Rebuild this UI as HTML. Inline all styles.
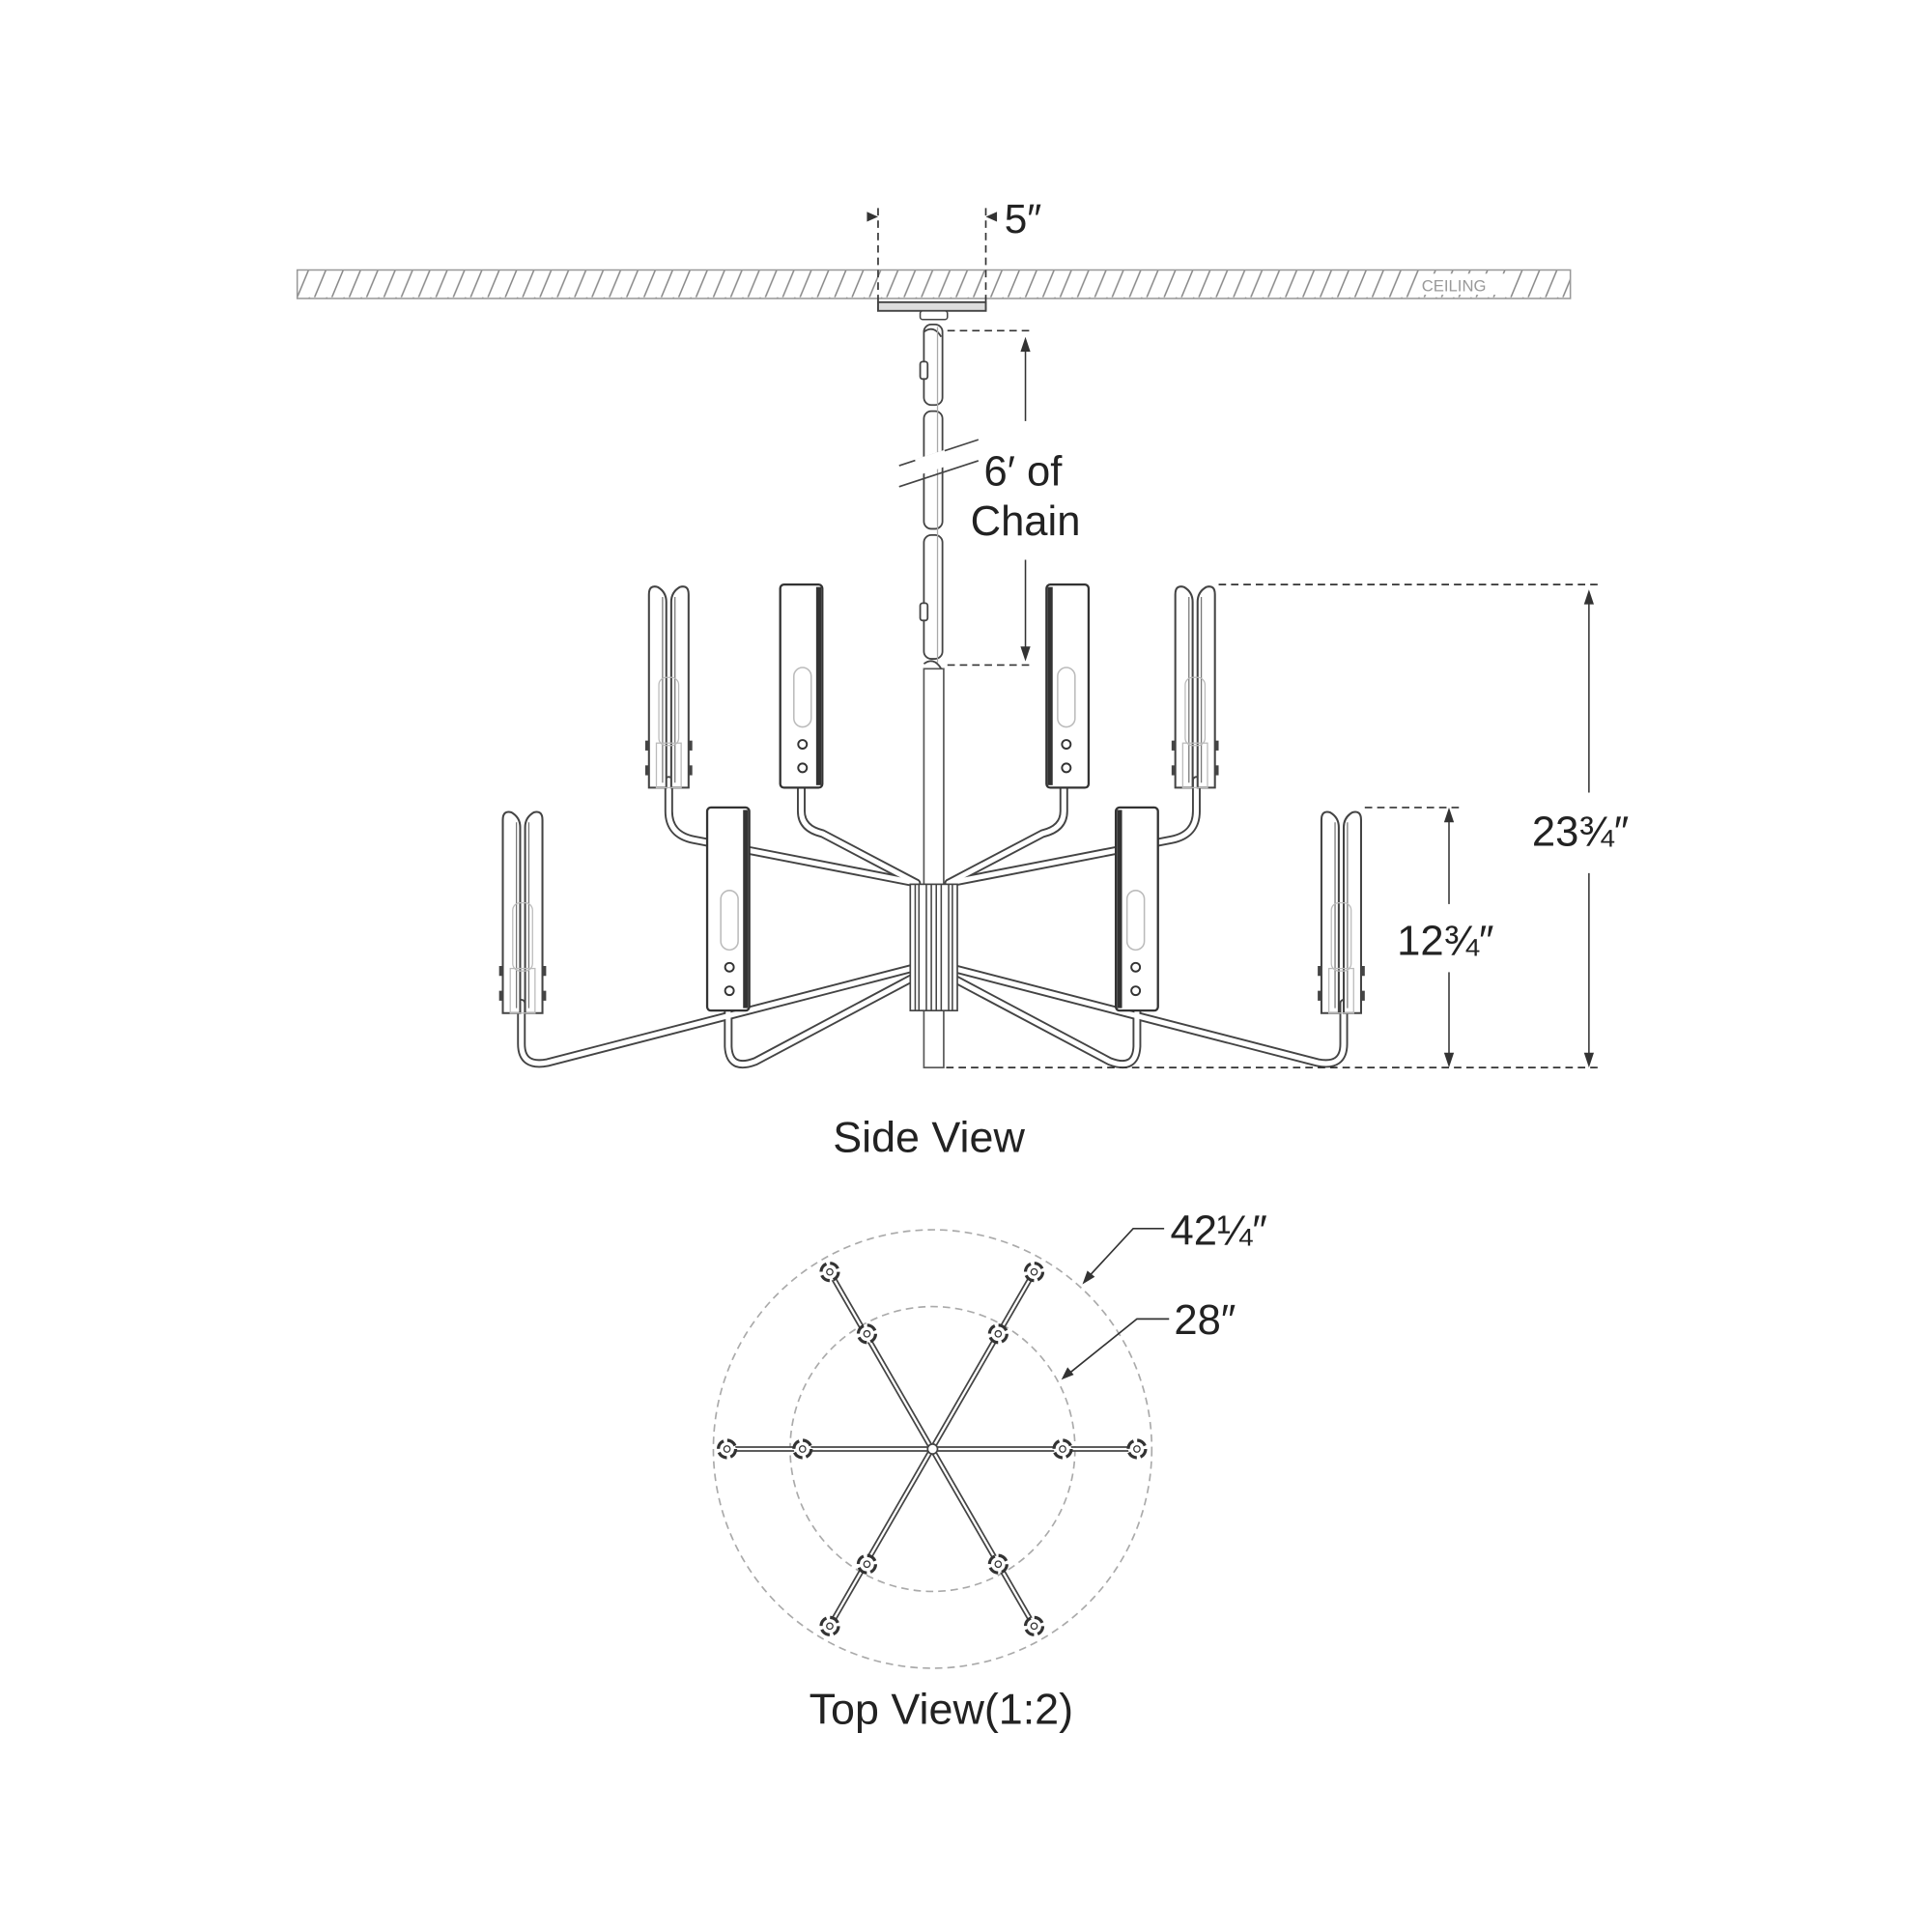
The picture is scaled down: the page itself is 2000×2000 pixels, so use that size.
<!DOCTYPE html>
<html><head><meta charset="utf-8"><style>
html,body{margin:0;padding:0;background:#fff;}
svg{display:block;}
text{font-family:"Liberation Sans",sans-serif;fill:#222;}
</style></head><body>
<svg width="2000" height="2000" viewBox="0 0 1560 1560" xmlns="http://www.w3.org/2000/svg">
<defs>
<pattern id="hatch" width="14" height="24" patternUnits="userSpaceOnUse">
<line x1="2" y1="24" x2="12" y2="0" stroke="#888" stroke-width="1.2"/>
</pattern>
<g id="vshade">
<path d="M1,8 Q1,0 8,2 Q15,6 15,14 L15,164 L1,164 Z" fill="#fff" stroke="#444" stroke-width="1.6"/>
<path d="M33,8 Q33,0 26,2 Q19,6 19,14 L19,164 L33,164 Z" fill="#fff" stroke="#444" stroke-width="1.6"/>
<line x1="12" y1="10" x2="12" y2="160" stroke="#777" stroke-width="1"/>
<line x1="22" y1="10" x2="22" y2="160" stroke="#777" stroke-width="1"/>
<rect x="9" y="75" width="16" height="55" rx="6" fill="none" stroke="#bbb" stroke-width="1"/>
<rect x="7" y="128" width="20" height="36" fill="none" stroke="#bbb" stroke-width="1"/>
<rect x="-2" y="126" width="3" height="8" fill="#444"/><rect x="33" y="126" width="3" height="8" fill="#444"/>
<rect x="-2" y="146" width="3" height="8" fill="#444"/><rect x="33" y="146" width="3" height="8" fill="#444"/>
</g>
<g id="sshade">
<rect x="0" y="0" width="34" height="164" rx="3" fill="#fff" stroke="#333" stroke-width="1.8"/>
<rect x="29" y="2" width="4" height="160" fill="#333"/>
<rect x="11" y="67" width="14" height="48" rx="7" fill="none" stroke="#bbb" stroke-width="1.2"/>
<circle cx="18" cy="129" r="3.5" fill="none" stroke="#333" stroke-width="1.5"/>
<circle cx="18" cy="148" r="3.5" fill="none" stroke="#333" stroke-width="1.5"/>
</g>
<g id="arms" fill="none" stroke-linejoin="round" stroke-linecap="round">
<g stroke="#444" stroke-width="7">
<path d="M540,630 L540,655 Q540,674 560,678 L740,713"/>
<path d="M647,630 L647,655 Q647,669 664,673 L740,713"/>
<path d="M421,810 L421,843 Q421,862 442,858 L736,782"/>
<path d="M588,810 L588,845 Q589,865 610,857 L736,790"/>
</g>
<g stroke="#fff" stroke-width="4">
<path d="M540,630 L540,655 Q540,674 560,678 L740,713"/>
<path d="M647,630 L647,655 Q647,669 664,673 L740,713"/>
<path d="M421,810 L421,843 Q421,862 442,858 L736,782"/>
<path d="M588,810 L588,845 Q589,865 610,857 L736,790"/>
</g>
</g>
<g id="bulb"><circle r="7" fill="#fff" stroke="#333" stroke-width="2.5" stroke-dasharray="8 3"/><circle r="2.5" fill="none" stroke="#333" stroke-width="1"/></g>
</defs>

<!-- ceiling -->
<rect x="240" y="218" width="1028" height="23" fill="url(#hatch)" stroke="#999" stroke-width="1.2"/>
<rect x="1145" y="221" width="72" height="17" fill="#fff"/>
<text x="1148" y="235" font-size="13" style="fill:#999">CEILING</text>

<!-- 5" dim -->
<g stroke="#333" stroke-width="1.3" stroke-dasharray="6 4">
<line x1="709" y1="168" x2="709" y2="250"/>
<line x1="796" y1="168" x2="796" y2="250"/>
</g>
<path d="M700,171 L709,175 L700,179 Z M805,171 L796,175 L805,179 Z" fill="#333"/>
<text x="811" y="188" font-size="33">5″</text>

<!-- canopy -->
<rect x="709" y="244" width="87" height="7" fill="#ddd" stroke="#444" stroke-width="1.5"/>
<rect x="743" y="251" width="22" height="7" rx="2" fill="#fff" stroke="#444" stroke-width="1.2"/>

<!-- chain -->
<g fill="#fff" stroke="#444" stroke-width="1.4">
<rect x="746" y="262" width="15" height="65" rx="6"/>
<rect x="746" y="332" width="15" height="95" rx="6"/>
<rect x="746" y="432" width="15" height="100" rx="6"/>
<rect x="743" y="292" width="6" height="14" rx="2"/>
<rect x="743" y="487" width="6" height="14" rx="2"/>
<path d="M746,268 Q754,262 760,272 M746,536 Q754,530 760,540" fill="none"/>
</g>
<line x1="757" y1="264" x2="757" y2="535" stroke="#aaa" stroke-width="1"/>
<g stroke="#444" stroke-width="1.3"><line x1="726" y1="376" x2="790" y2="355"/><line x1="726" y1="393" x2="790" y2="372"/></g>
<rect x="740" y="367" width="25" height="13" fill="#fff" transform="rotate(-18 752 373)"/>

<!-- chain dim -->
<g stroke="#333" stroke-width="1.3" stroke-dasharray="6 4">
<line x1="765" y1="267" x2="832" y2="267"/>
<line x1="765" y1="537" x2="832" y2="537"/>
</g>
<g stroke="#333" stroke-width="1.2"><line x1="828" y1="275" x2="828" y2="340"/><line x1="828" y1="452" x2="828" y2="530"/></g>
<path d="M824,284 L828,272 L832,284 Z M824,522 L828,534 L832,522 Z" fill="#333"/>
<text x="826" y="392" font-size="34" text-anchor="middle">6′ of</text>
<text x="828" y="432" font-size="34" text-anchor="middle">Chain</text>

<!-- stem -->
<rect x="746" y="540" width="16" height="322" fill="#fff" stroke="#555" stroke-width="1.3"/>

<!-- arms -->
<use href="#arms"/>
<use href="#arms" transform="translate(1506,0) scale(-1,1)"/>

<!-- hub -->
<rect x="735" y="714" width="38" height="102" fill="#fff" stroke="#444" stroke-width="1.3"/>
<g stroke="#444" stroke-width="1.2">
<line x1="739" y1="714" x2="739" y2="816"/><line x1="742" y1="714" x2="742" y2="816"/>
<line x1="748" y1="714" x2="748" y2="816"/><line x1="752" y1="714" x2="752" y2="816"/>
<line x1="756" y1="714" x2="756" y2="816"/><line x1="760" y1="714" x2="760" y2="816"/>
<line x1="766" y1="714" x2="766" y2="816"/><line x1="769" y1="714" x2="769" y2="816"/>
</g>

<!-- shades -->
<use href="#vshade" x="523" y="472"/>
<use href="#sshade" x="630" y="472"/>
<g transform="translate(1724,0) scale(-1,1)"><use href="#sshade" x="845" y="472"/></g>
<use href="#vshade" x="948" y="472"/>
<use href="#vshade" x="405" y="654"/>
<use href="#sshade" x="571" y="652"/>
<g transform="translate(1838,0) scale(-1,1)"><use href="#sshade" x="903" y="652"/></g>
<use href="#vshade" x="1066" y="654"/>

<!-- 23 3/4 dim -->
<g stroke="#333" stroke-width="1.3" stroke-dasharray="6 4">
<line x1="984" y1="472" x2="1290" y2="472"/>
<line x1="764" y1="862" x2="1290" y2="862"/>
<line x1="1102" y1="652" x2="1178" y2="652"/>
</g>
<g stroke="#333" stroke-width="1.2"><line x1="1283" y1="478" x2="1283" y2="640"/><line x1="1283" y1="705" x2="1283" y2="858"/>
<line x1="1170" y1="658" x2="1170" y2="730"/><line x1="1170" y1="785" x2="1170" y2="858"/></g>
<path d="M1279,488 L1283,476 L1287,488 Z M1279,850 L1283,862 L1287,850 Z M1166,664 L1170,652 L1174,664 Z M1166,850 L1170,862 L1174,850 Z" fill="#333"/>
<text x="1237" y="683" font-size="34">23¾″</text>
<text x="1128" y="771" font-size="34">12¾″</text>

<text x="750" y="930" font-size="35" text-anchor="middle">Side View</text>

<!-- top view -->
<g fill="none" stroke="#aaa" stroke-width="1.3" stroke-dasharray="6 4">
<circle cx="753" cy="1170" r="177"/>
<circle cx="753" cy="1170" r="115"/>
</g>
<g stroke="#444" stroke-width="4.5"><line x1="587" y1="1170" x2="918" y2="1170"/><line x1="670" y1="1027" x2="835" y2="1313"/><line x1="835" y1="1027" x2="670" y2="1313"/></g>
<g stroke="#fff" stroke-width="1.8"><line x1="587" y1="1170" x2="918" y2="1170"/><line x1="670" y1="1027" x2="835" y2="1313"/><line x1="835" y1="1027" x2="670" y2="1313"/></g>
<circle cx="753" cy="1170" r="4" fill="#fff" stroke="#444" stroke-width="1.3"/>
<use href="#bulb" x="587" y="1170"/><use href="#bulb" x="918" y="1170"/>
<use href="#bulb" x="670" y="1027"/><use href="#bulb" x="835" y="1027"/>
<use href="#bulb" x="670" y="1313"/><use href="#bulb" x="835" y="1313"/>
<use href="#bulb" x="648" y="1170"/><use href="#bulb" x="858" y="1170"/>
<use href="#bulb" x="700" y="1077"/><use href="#bulb" x="806" y="1077"/>
<use href="#bulb" x="700" y="1263"/><use href="#bulb" x="806" y="1263"/>

<g stroke="#333" stroke-width="1.3" fill="none">
<polyline points="940,992 915,992 878,1032"/>
<polyline points="944,1065 918,1065 862,1110"/>
</g>
<path d="M874,1037 L878,1026 L884,1031 Z M857,1114 L862,1104 L867,1110 Z" fill="#333"/>
<text x="945" y="1005" font-size="34">42¼″</text>
<text x="948" y="1077" font-size="34">28″</text>

<text x="760" y="1392" font-size="35" text-anchor="middle">Top View(1:2)</text>
</svg>
</body></html>
